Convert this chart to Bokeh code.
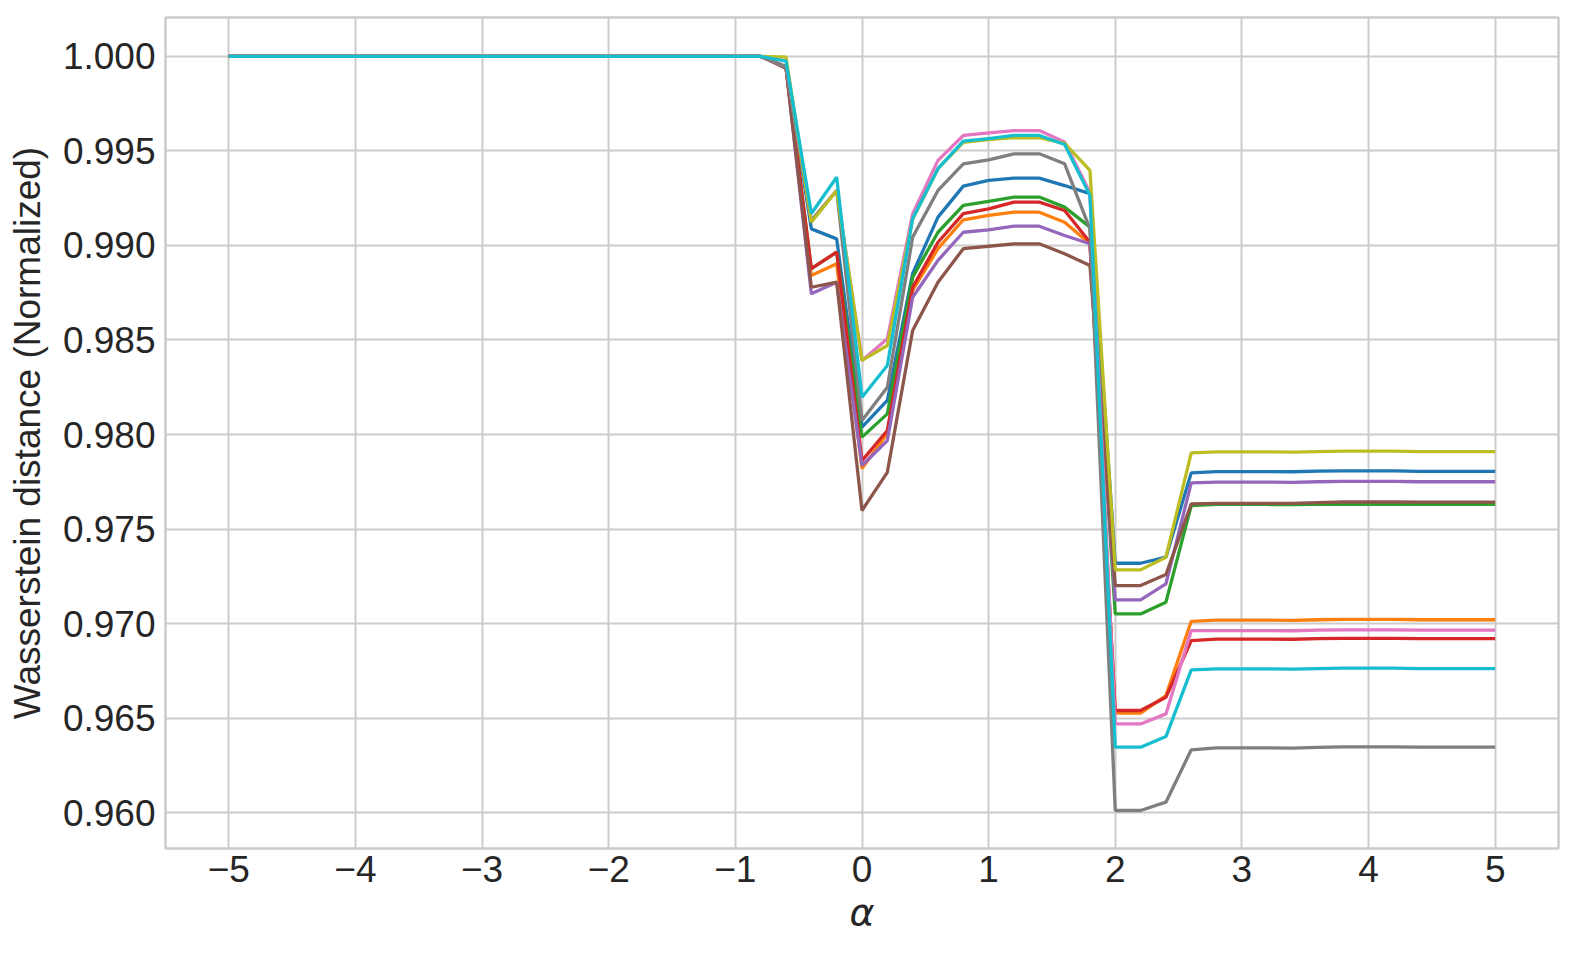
from bokeh.plotting import figure
from bokeh.models import Range1d, FixedTicker, NumeralTickFormatter
from bokeh.embed import file_html
from bokeh.resources import INLINE

# alpha values: -5 .. 5 in steps of 0.2
alpha = [-5.0, -4.8, -4.6, -4.4, -4.2, -4.0, -3.8, -3.6, -3.4, -3.2, -3.0,
         -2.8, -2.6, -2.4, -2.2, -2.0, -1.8, -1.6, -1.4, -1.2, -1.0, -0.8,
         -0.6, -0.4, -0.2, 0.0, 0.2, 0.4, 0.6, 0.8, 1.0, 1.2, 1.4, 1.6, 1.8,
         2.0, 2.2, 2.4, 2.6, 2.8, 3.0, 3.2, 3.4, 3.6, 3.8, 4.0, 4.2, 4.4,
         4.6, 4.8, 5.0]

# shared plateau for alpha = -5 .. -0.8
plateau = [1.0, 1.0, 1.0, 1.0, 1.0, 1.0, 1.0, 1.0, 1.0, 1.0, 1.0,
           1.0, 1.0, 1.0, 1.0, 1.0, 1.0, 1.0, 1.0, 1.0, 1.0, 1.0]

# values for alpha = -0.6 .. 5.0
s_blue = [0.99945, 0.99088, 0.99035, 0.98039, 0.98180, 0.98852, 0.99150, 0.99314, 0.99344,
          0.99356, 0.99356, 0.99317, 0.99274, 0.97319, 0.97319, 0.97351, 0.97797, 0.97804,
          0.97804, 0.97804, 0.97803, 0.97806, 0.97808, 0.97808, 0.97808, 0.97805, 0.97805,
          0.97805, 0.97805]
s_orange = [0.99945, 0.98841, 0.98903, 0.97820, 0.98005, 0.98762, 0.98983, 0.99136, 0.99159,
            0.99176, 0.99176, 0.99123, 0.99009, 0.96526, 0.96526, 0.96619, 0.97012, 0.97018,
            0.97018, 0.97018, 0.97017, 0.97020, 0.97022, 0.97022, 0.97022, 0.97020, 0.97020,
            0.97020, 0.97020]
s_green = [0.99945, 0.98877, 0.98965, 0.97986, 0.98109, 0.98832, 0.99070, 0.99212, 0.99233,
           0.99256, 0.99256, 0.99203, 0.99097, 0.97051, 0.97051, 0.97113, 0.97624, 0.97630,
           0.97630, 0.97630, 0.97629, 0.97630, 0.97631, 0.97631, 0.97631, 0.97630, 0.97630,
           0.97630, 0.97630]
s_red = [0.99940, 0.98877, 0.98965, 0.97862, 0.98021, 0.98779, 0.99017, 0.99168, 0.99194,
         0.99229, 0.99229, 0.99185, 0.99017, 0.96540, 0.96540, 0.96610, 0.96910, 0.96918,
         0.96918, 0.96918, 0.96917, 0.96920, 0.96922, 0.96922, 0.96922, 0.96920, 0.96920,
         0.96920, 0.96920]
s_purple = [0.99945, 0.98744, 0.98806, 0.97836, 0.97968, 0.98726, 0.98921, 0.99070, 0.99083,
            0.99102, 0.99102, 0.99053, 0.99009, 0.97125, 0.97125, 0.97210, 0.97744, 0.97748,
            0.97748, 0.97748, 0.97747, 0.97750, 0.97752, 0.97752, 0.97752, 0.97750, 0.97750,
            0.97750, 0.97750]
s_brown = [0.99938, 0.98779, 0.98806, 0.97598, 0.97800, 0.98550, 0.98806, 0.98983, 0.98996,
           0.99009, 0.99009, 0.98956, 0.98894, 0.97201, 0.97201, 0.97259, 0.97633, 0.97636,
           0.97636, 0.97636, 0.97636, 0.97640, 0.97643, 0.97643, 0.97643, 0.97642, 0.97642,
           0.97642, 0.97642]
s_pink = [0.99945, 0.99130, 0.99291, 0.98392, 0.98506, 0.99168, 0.99450, 0.99582, 0.99596,
          0.99608, 0.99608, 0.99547, 0.99280, 0.96469, 0.96469, 0.96522, 0.96963, 0.96963,
          0.96963, 0.96963, 0.96962, 0.96965, 0.96967, 0.96967, 0.96967, 0.96965, 0.96965,
          0.96965, 0.96965]
s_gray = [0.99945, 0.99132, 0.99291, 0.98074, 0.98250, 0.99044, 0.99291, 0.99432, 0.99453,
          0.99485, 0.99485, 0.99432, 0.99088, 0.96011, 0.96011, 0.96055, 0.96332, 0.96342,
          0.96342, 0.96342, 0.96341, 0.96345, 0.96348, 0.96348, 0.96348, 0.96346, 0.96346,
          0.96346, 0.96346]
s_olive = [0.99996, 0.99123, 0.99291, 0.98392, 0.98471, 0.99140, 0.99406, 0.99545, 0.99560,
           0.99570, 0.99570, 0.99540, 0.99397, 0.97284, 0.97284, 0.97351, 0.97903, 0.97908,
           0.97908, 0.97908, 0.97907, 0.97910, 0.97912, 0.97912, 0.97912, 0.97910, 0.97910,
           0.97910, 0.97910]
s_cyan = [0.99975, 0.99169, 0.99361, 0.98197, 0.98365, 0.99143, 0.99406, 0.99552, 0.99565,
          0.99582, 0.99582, 0.99534, 0.99265, 0.96346, 0.96346, 0.96402, 0.96755, 0.96760,
          0.96760, 0.96760, 0.96759, 0.96762, 0.96764, 0.96764, 0.96764, 0.96762, 0.96762,
          0.96762, 0.96762]

series = [s_blue, s_orange, s_green, s_red, s_purple, s_brown, s_pink, s_gray, s_olive, s_cyan]
colors = ["#1f77b4", "#ff7f0e", "#2ca02c", "#d62728", "#9467bd",
          "#8c564b", "#e377c2", "#7f7f7f", "#bcbd22", "#17becf"]

x_ticks = [-5, -4, -3, -2, -1, 0, 1, 2, 3, 4, 5]
x_tick_labels = ["\u22125", "\u22124", "\u22123", "\u22122", "\u22121", "0", "1", "2", "3", "4", "5"]
y_ticks = [0.960, 0.965, 0.970, 0.975, 0.980, 0.985, 0.990, 0.995, 1.000]

p = figure(frame_width=1393, frame_height=831,
           min_border_left=165, min_border_top=17, min_border_right=10, min_border_bottom=98,
           x_range=Range1d(-5.5, 5.5), y_range=Range1d(0.95810, 1.00206),
           output_backend="svg", toolbar_location=None,
           background_fill_color="white", border_fill_color="white")

for ys, c in zip(series, colors):
    p.line(alpha, plateau + ys, line_color=c, line_width=3.3)

p.outline_line_color = "#cccccc"
p.outline_line_width = 2.5

for g in (p.xgrid[0], p.ygrid[0]):
    g.grid_line_color = "#cccccc"
    g.grid_line_width = 2

p.xaxis.ticker = FixedTicker(ticks=x_ticks)
p.xaxis.major_label_overrides = {t: l for t, l in zip(x_ticks, x_tick_labels)}
p.yaxis.ticker = FixedTicker(ticks=y_ticks)
p.yaxis.formatter = NumeralTickFormatter(format="0.000")

for ax in (p.xaxis[0], p.yaxis[0]):
    ax.axis_line_color = None
    ax.major_tick_line_color = None
    ax.minor_tick_line_color = None
    ax.major_tick_in = 0
    ax.major_tick_out = 0
    ax.major_label_text_font = "Liberation Sans"
    ax.major_label_text_font_size = "37px"
    ax.major_label_text_color = "#262626"
    ax.axis_label_text_color = "#262626"
    ax.axis_label_text_font_style = "normal"

p.yaxis.major_label_standoff = 10
p.yaxis.axis_label_standoff = 12
p.xaxis.major_label_standoff = 7
p.xaxis.axis_label_standoff = 5

p.xaxis.axis_label = "\u03b1"
p.xaxis.axis_label_text_font = "DejaVu Sans"
p.xaxis.axis_label_text_font_style = "italic"
p.xaxis.axis_label_text_font_size = "38px"
p.yaxis.axis_label = "Wasserstein distance (Normalized)"
p.yaxis.axis_label_text_font = "Liberation Sans"
p.yaxis.axis_label_text_font_size = "37px"

open("out.html", "w").write(file_html(p, INLINE))
